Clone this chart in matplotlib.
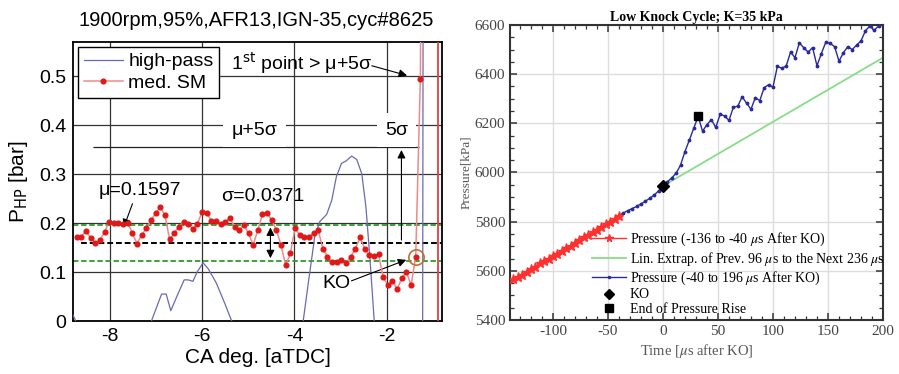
import numpy as np
import matplotlib
matplotlib.use("Agg")
from matplotlib import pyplot as plt
from matplotlib.ticker import MultipleLocator

plt.rcParams['mathtext.fontset'] = 'stix'
plt.rcParams['axes.unicode_minus'] = False

# ---- left panel data: knock onset detection ----
med_sm = [0.172, 0.172, 0.184, 0.169, 0.160, 0.165, 0.182, 0.203, 0.201, 0.201,
          0.198, 0.201, 0.179, 0.158, 0.176, 0.189, 0.206, 0.220, 0.233, 0.216,
          0.167, 0.179, 0.193, 0.203, 0.199, 0.187, 0.199, 0.223, 0.220, 0.205,
          0.205, 0.198, 0.203, 0.210, 0.193, 0.186, 0.196, 0.179, 0.155, 0.186,
          0.218, 0.220, 0.206, 0.186, 0.155, 0.114, 0.138, 0.189, 0.176, 0.172,
          0.172, 0.179, 0.186, 0.148, 0.131, 0.121, 0.121, 0.124, 0.118, 0.131,
          0.148, 0.171, 0.148, 0.135, 0.133, 0.136, 0.089, 0.073, 0.082, 0.065,
          0.087, 0.100, 0.073, 0.131, 0.495, 2.0]
med_x = list(np.linspace(-8.72, -1.27, 75)) + [-1.17]

hp_x = [-8.80, -8.74, np.nan,
        -7.10, -6.88, -6.78, -6.68, -6.55, -6.39, -6.30, -6.20, -6.11, -5.98,
        -5.87, -5.69, -5.51, -5.36, np.nan,
        -3.81, -3.70, -3.56, -3.45, -3.30, -3.19, -3.09, -2.98, -2.88, -2.76,
        -2.65, -2.54, -2.45, -2.36, -2.27, np.nan,
        -1.22, -1.19]
hp_y = [0.012, 0.0, np.nan,
        0.0, 0.055, 0.055, 0.021, 0.050, 0.084, 0.084, 0.081, 0.100, 0.119,
        0.107, 0.077, 0.036, 0.0, np.nan,
        0.0, 0.077, 0.172, 0.203, 0.218, 0.247, 0.295, 0.322, 0.327, 0.337,
        0.330, 0.301, 0.233, 0.124, 0.0, np.nan,
        0.0, 2.0]

mu = 0.1597
sigma = 0.0371
thresh = 0.355          # drawn mu+5sigma level
ko_x, ko_y = -1.37, 0.131

# ---- right panel data: pressure around KO ----
t_red = np.arange(-136, -39, 4)
p_red = [5565, 5576, 5585, 5597, 5608, 5617, 5630, 5640, 5648, 5660,
         5668, 5680, 5692, 5702, 5712, 5724, 5736, 5745, 5756, 5768,
         5778, 5790, 5800, 5812, 5825]

t_blue = np.arange(-40, 197, 4)
p_blue = [5825, 5835, 5845, 5853, 5862, 5872, 5883, 5895, 5908, 5925,
          5945, 5962, 5978, 5997, 6030, 6085, 6132, 6180, 6228, 6168,
          6195, 6215, 6183, 6237, 6230, 6212, 6265, 6270, 6308, 6282,
          6257, 6305, 6292, 6345, 6357, 6347, 6432, 6424, 6433, 6490,
          6467, 6528, 6507, 6490, 6508, 6434, 6484, 6530, 6525, 6512,
          6453, 6487, 6512, 6500, 6518, 6535, 6576, 6596, 6578, 6596]

t_green = [0, 200]
p_green = [5945, 6467]

ko_t, ko_p = 0, 5945
end_t, end_p = 32, 6228

fig = plt.figure(figsize=(8.99, 3.74), dpi=100)

# ================= left =================
sans = 'Liberation Sans'
fs = 14
ax1 = fig.add_axes([0.0812, 0.1417, 0.4105, 0.746])
ax1.set_xlim(-8.8, -0.8)
ax1.set_ylim(0, 0.57)
ax1.set_xticks([-8, -6, -4, -2])
ax1.set_yticks([0, 0.1, 0.2, 0.3, 0.4, 0.5])
ax1.set_yticklabels(['0', '0.1', '0.2', '0.3', '0.4', '0.5'])
ax1.tick_params(length=0, pad=5, labelsize=fs)
for lab in ax1.get_xticklabels() + ax1.get_yticklabels():
    lab.set_family(sans)
ax1.grid(True, color='#333333', lw=0.9)
ax1.set_axisbelow(True)
for s in ax1.spines.values():
    s.set_linewidth(1.3)

ax1.axhline(mu + sigma, color='#2e9a2e', lw=1.3, dashes=(3, 1.5), zorder=2)
ax1.axhline(mu - sigma, color='#2e9a2e', lw=1.3, dashes=(3, 1.5), zorder=2)
ax1.hlines(mu, -8.62, -0.8, color='black', lw=1.4, linestyles=(0, (3, 1.5)), zorder=2)
ax1.hlines(thresh, -8.37, -1.3, color='#222222', lw=0.9, zorder=2)

ax1.plot(hp_x, hp_y, color='#6a6ab4', lw=0.9, label='high-pass', zorder=3)
ax1.plot(med_x, med_sm, color='#ee8a8a', lw=1.1, marker='o', ms=3.4,
         mfc='#e01818', mec='#e01818', label='med. SM', zorder=4)
ax1.axvline(-0.89, color='#e04040', lw=1.3, zorder=3)
ax1.plot([ko_x], [ko_y], 'o', ms=11, mfc='none', mec='#c07030', mew=1.2, zorder=5)

leg = ax1.legend(loc='upper left', prop={'family': sans, 'size': fs}, fancybox=False,
                 edgecolor='black', framealpha=1, borderaxespad=0.25,
                 handlelength=2.0, handletextpad=0.3, numpoints=1,
                 labelspacing=0.2, borderpad=0.3)
leg.get_frame().set_linewidth(1.0)

arrow = dict(arrowstyle='-|>', color='black', lw=0.8, mutation_scale=12)
ax1.text(-7.35, 0.267, 'μ=0.1597', family=sans, fontsize=fs, ha='center', va='center')
ax1.annotate('', xy=(-7.72, 0.186), xytext=(-7.49, 0.245), arrowprops=arrow)
ax1.text(-4.68, 0.254, 'σ=0.0371', family=sans, fontsize=fs, ha='center', va='center')
ax1.annotate('', xy=(-4.52, mu + sigma), xytext=(-4.52, mu - sigma),
             arrowprops=dict(arrowstyle='<|-|>', color='black', lw=0.8, mutation_scale=12))
ax1.text(-3.09, 0.077, 'KO', family=sans, fontsize=fs, ha='center', va='center')
ax1.annotate('', xy=(-1.52, 0.127), xytext=(-2.82, 0.08), arrowprops=arrow)
ax1.text(-3.84, 0.527, r'1$^{\rm st}$ point > μ+5σ', family=sans, fontsize=fs,
         ha='center', va='center', math_fontfamily='dejavusans')
ax1.annotate('', xy=(-1.5, 0.5), xytext=(-2.38, 0.523), arrowprops=arrow)
ax1.text(-4.86, 0.39, 'μ+5σ', family=sans, fontsize=fs, ha='center', va='center',
         bbox=dict(fc='white', ec='none', pad=6), zorder=6)
ax1.text(-1.79, 0.39, '5σ', family=sans, fontsize=fs, ha='center', va='center',
         bbox=dict(fc='white', ec='none', pad=6), zorder=6)
ax1.annotate('', xy=(-1.68, thresh), xytext=(-1.68, mu), arrowprops=arrow, zorder=6)

ax1.set_xlabel('CA deg. [aTDC]', family=sans, fontsize=15, labelpad=2)
ax1.set_ylabel(r'P$_{\rm HP}$ [bar]', family=sans, fontsize=15, labelpad=6,
               math_fontfamily='dejavusans')
fig.text(256 / 899, 1 - 20 / 374, '1900rpm,95%,AFR13,IGN-35,cyc#8625',
         family=sans, fontsize=14.5, ha='center', va='center')

# ================= right =================
serif = 'Liberation Serif'
ax2 = fig.add_axes([0.5673, 0.1444, 0.4149, 0.7888])
ax2.set_xlim(-139, 200)
ax2.set_ylim(5400, 6600)
ax2.set_xticks([-100, -50, 0, 50, 100, 150, 200])
ax2.set_yticks([5400, 5600, 5800, 6000, 6200, 6400, 6600])
ax2.xaxis.set_minor_locator(MultipleLocator(10))
ax2.yaxis.set_minor_locator(MultipleLocator(50))
ax2.tick_params(which='both', direction='in', top=True, right=True, color='#333333',
                labelsize=11, labelcolor='#444444')
ax2.tick_params(which='major', length=5, width=1.1)
ax2.tick_params(which='minor', length=3, width=0.9)
for lab in ax2.get_xticklabels() + ax2.get_yticklabels():
    lab.set_family(serif)
ax2.grid(True, color='#dddddd', lw=1.0)
ax2.set_axisbelow(True)
for s in ax2.spines.values():
    s.set_linewidth(1.5)
    s.set_color('#333333')

ax2.plot(t_green, p_green, color='#88dd88', lw=1.3, zorder=2,
         label=r'Lin. Extrap. of Prev. 96 $\mu$s to the Next 236 $\mu$s')
ax2.plot(t_blue, p_blue, color='#2a2a9c', lw=1.0, marker='.', ms=3.5, zorder=3,
         label=r'Pressure (-40 to 196 $\mu$s After KO)')
ax2.plot(t_red, p_red, color='#ff3030', lw=1.0, marker='*', ms=6.5, zorder=4,
         label=r'Pressure (-136 to -40 $\mu$s After KO)')
ax2.plot([ko_t], [ko_p], 'D', color='black', ms=6, zorder=5, label='KO')
ax2.plot([end_t], [end_p], 's', color='black', ms=6, zorder=5, label='End of Pressure Rise')

h, l = ax2.get_legend_handles_labels()
order = [2, 0, 1, 3, 4]
ax2.legend([h[i] for i in order], [l[i] for i in order], loc='upper left',
           bbox_to_anchor=(0.185, 0.345), frameon=False,
           prop={'family': serif, 'size': 10}, handlelength=2.5,
           handletextpad=0.25, labelspacing=0.12, numpoints=1, markerscale=0.85)

ax2.set_title('Low Knock Cycle; K=35 kPa', family=serif, fontsize=10,
              fontweight='bold', pad=3)
ax2.set_xlabel(r'Time [$\mu$s after KO]', family=serif, fontsize=10.5,
               color='#555555', labelpad=3)
ax2.set_ylabel('Pressure[kPa]', family=serif, fontsize=9.5, color='#555555', labelpad=2)

fig.savefig('out.png', dpi=100)
